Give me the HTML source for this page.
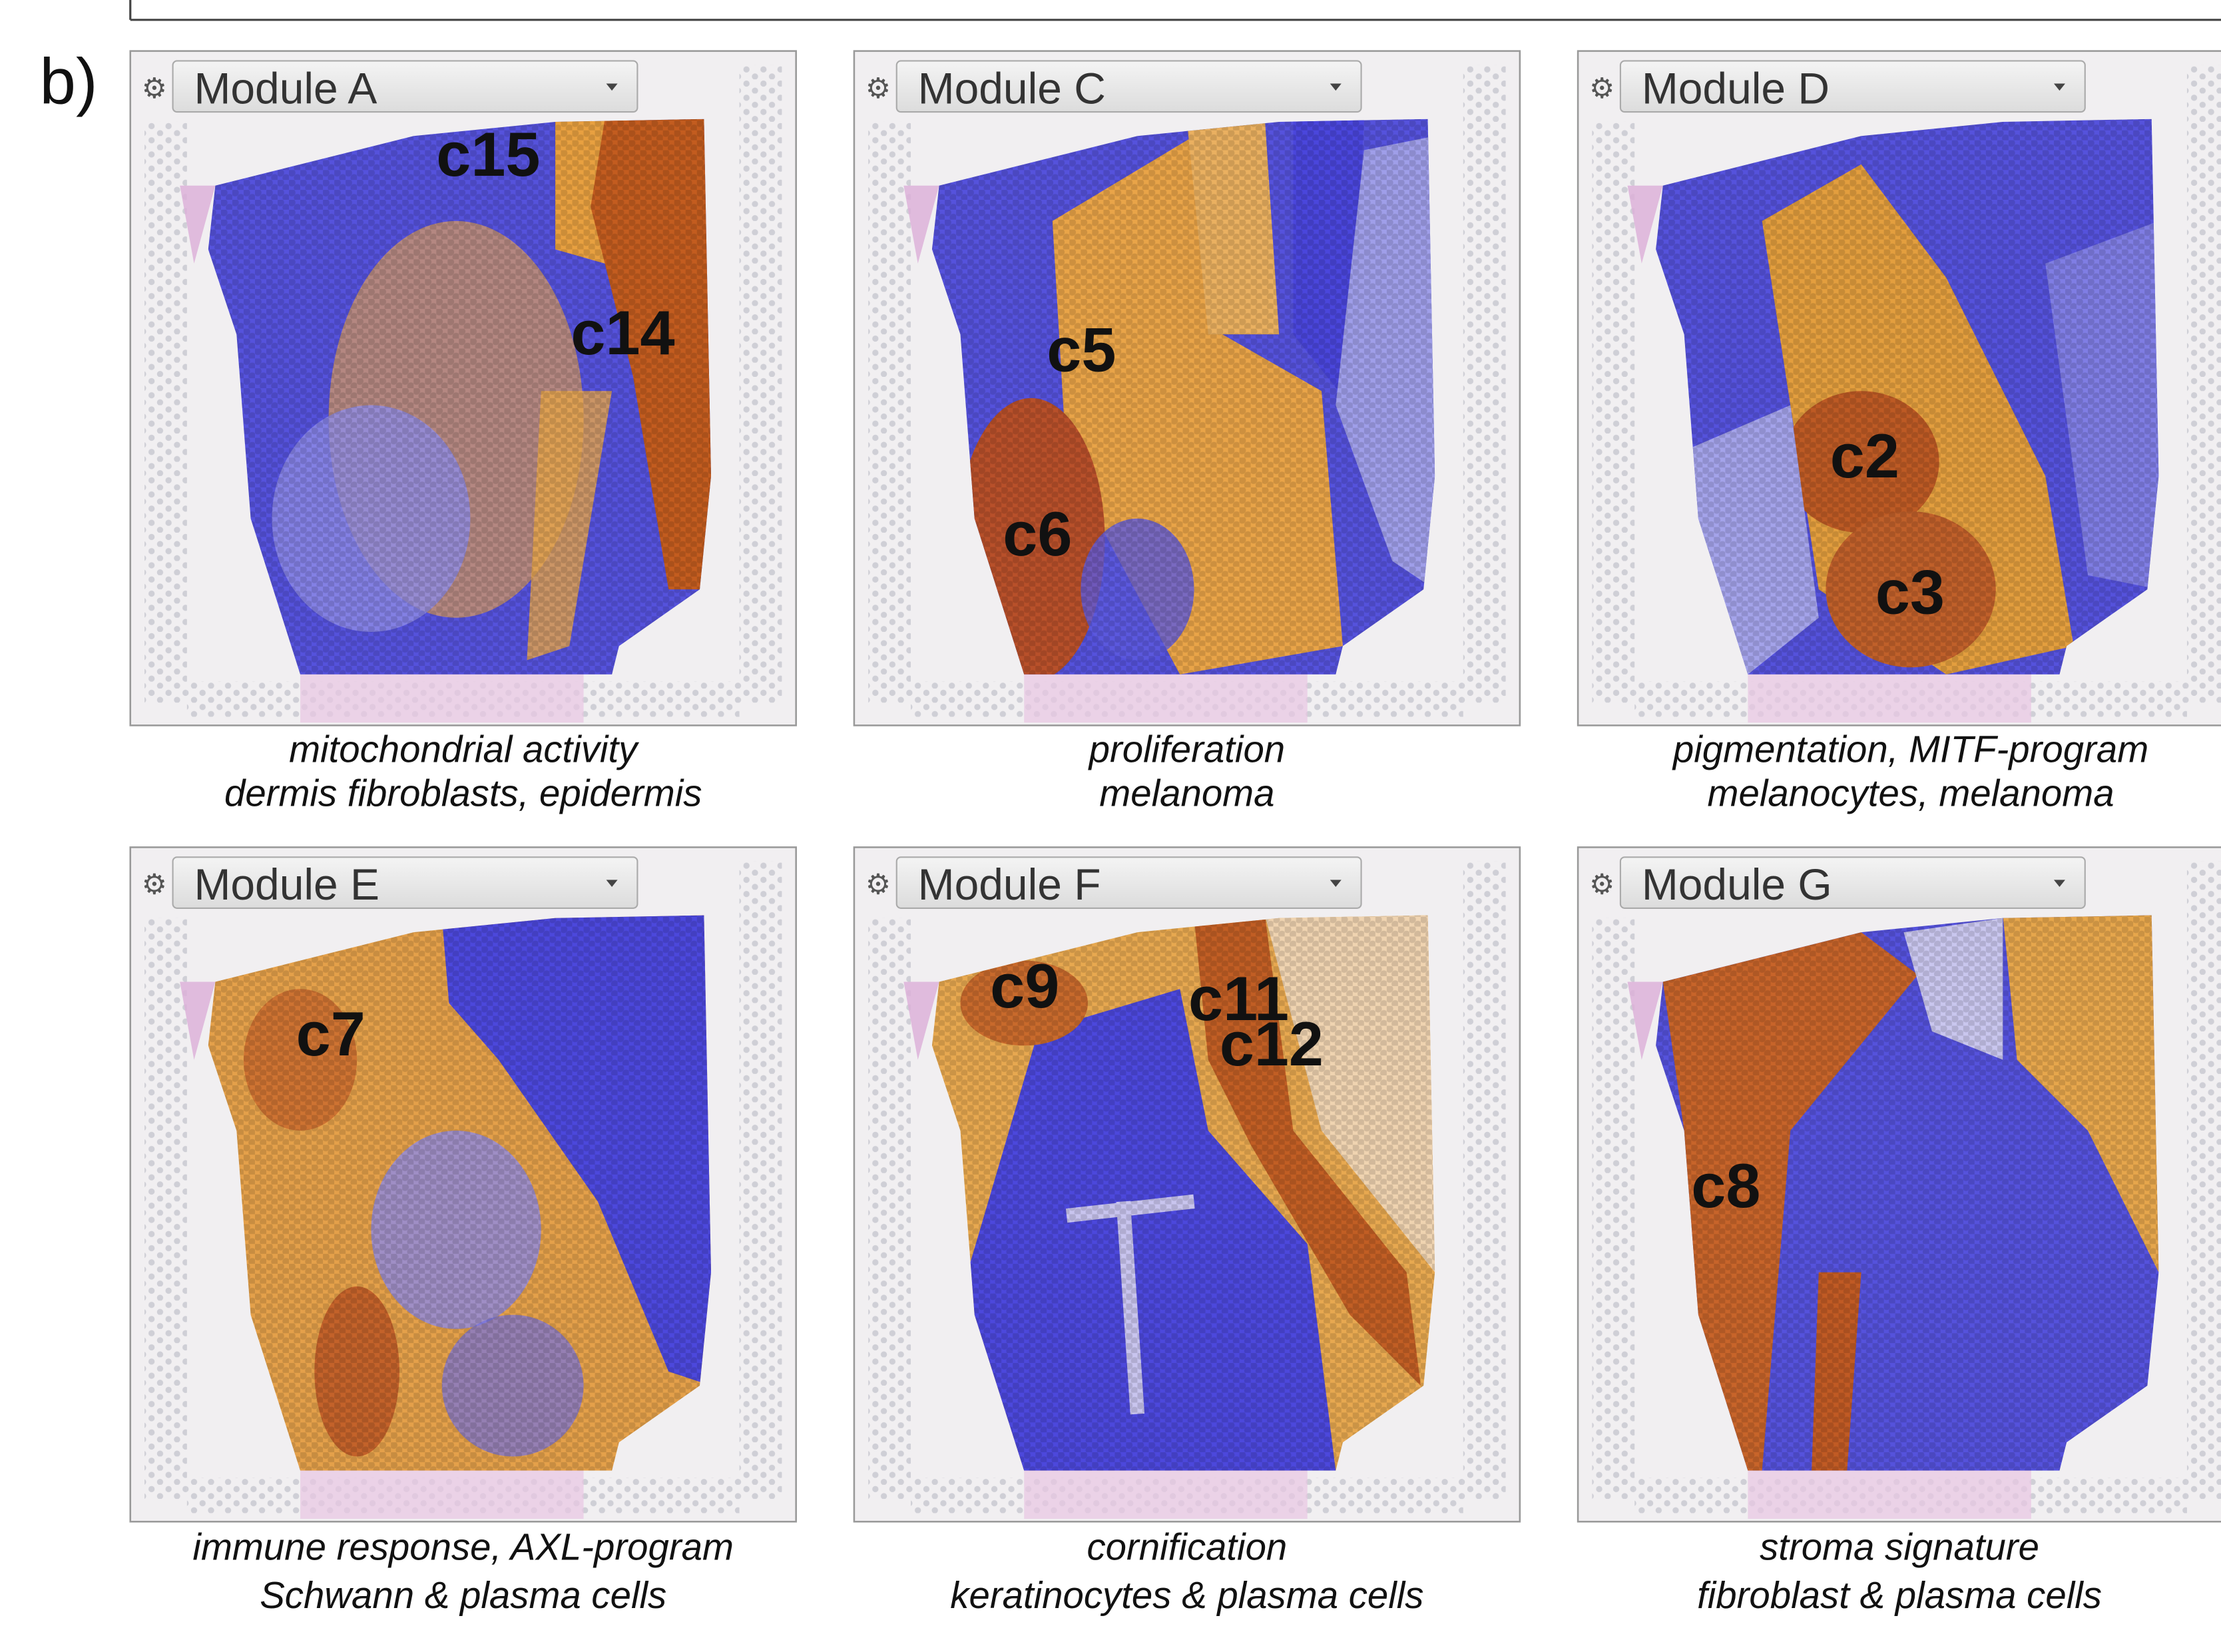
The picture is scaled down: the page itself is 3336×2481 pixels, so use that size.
<!DOCTYPE html>
<html><head><meta charset="utf-8"><style>
html,body{margin:0;padding:0;background:#fff;}
svg{display:block;}
.hd{font-family:"Liberation Sans",sans-serif;font-size:31px;fill:#333;}
.lb{font-family:"Liberation Sans",sans-serif;font-size:44px;font-weight:bold;fill:#111;}
.cap{font-family:"Liberation Sans",sans-serif;font-size:26.5px;font-style:italic;fill:#111;text-anchor:middle;}
</style></head><body>
<svg width="3336" height="2481" viewBox="0 0 1568 1166" preserveAspectRatio="none" xmlns="http://www.w3.org/2000/svg">
<defs>
<pattern id="dots" width="12" height="10" patternUnits="userSpaceOnUse">
<circle cx="3" cy="3" r="2.2" fill="#cfcfd6"/><circle cx="9" cy="8" r="2.2" fill="#cfcfd6"/></pattern>
<pattern id="hex" width="8" height="7" patternUnits="userSpaceOnUse">
<circle cx="2" cy="2" r="2.6" fill="#000" opacity="0.12"/><circle cx="6" cy="5.5" r="2.6" fill="#000" opacity="0.12"/></pattern>
<linearGradient id="hg" x1="0" y1="0" x2="0" y2="1"><stop offset="0" stop-color="#f4f4f4"/><stop offset="1" stop-color="#dcdcdc"/></linearGradient>
<clipPath id="tis"><path d="M60,95 L200,60 L300,50 L405,48 L410,300 L402,380 L345,420 L340,440 L120,440 L85,330 L75,200 L55,140 Z"/></clipPath>
<g id="frame">
<rect x="0" y="0" width="470" height="476" fill="#f1eff1" stroke="#999" stroke-width="1.2"/>
<rect x="10" y="50" width="30" height="410" fill="url(#dots)"/>
<rect x="430" y="10" width="30" height="450" fill="url(#dots)"/>
<rect x="40" y="445" width="390" height="25" fill="url(#dots)"/>
<rect x="120" y="438" width="200" height="36" fill="#e8c6e2" opacity="0.7"/>
<polygon points="35,95 60,95 45,150" fill="#dcaed8" opacity="0.8"/>
<rect x="30" y="7" width="328" height="36" rx="3" fill="url(#hg)" stroke="#aaa"/>
<text x="8" y="33" font-family="DejaVu Sans" font-size="20" fill="#555">⚙</text>
<polygon points="336,23 344,23 340,28" fill="#444"/>
</g>
</defs>

<line x1="92" y1="0" x2="92" y2="14" stroke="#444" stroke-width="1.5"/>
<line x1="92" y1="14" x2="1568" y2="14" stroke="#444" stroke-width="1.5"/>
<text x="28" y="73" font-family="Liberation Sans,sans-serif" font-size="46" fill="#111">b)</text>

<!-- A -->
<g transform="translate(92,36)">
<use href="#frame"/>
<text class="hd" x="45" y="37">Module A</text>
<g clip-path="url(#tis)">
<rect width="470" height="476" fill="#5552dc"/>
<ellipse cx="230" cy="260" rx="90" ry="140" fill="#e8a550" opacity="0.65"/>
<ellipse cx="170" cy="330" rx="70" ry="80" fill="#8f8ce6" opacity="0.8"/>
<polygon points="300,48 350,48 335,150 300,140" fill="#e8a040"/>
<polygon points="335,48 410,48 410,380 380,380 355,230 325,110" fill="#c35c1f"/>
<polygon points="290,240 340,240 310,420 280,430" fill="#e9a648" opacity="0.8"/>
<rect width="470" height="476" fill="url(#hex)"/>
</g>
<text class="lb" x="216" y="88">c15</text>
<text class="lb" x="311" y="214">c14</text>
</g>

<!-- C -->
<g transform="translate(603,36)">
<use href="#frame"/>
<text class="hd" x="45" y="37">Module C</text>
<g clip-path="url(#tis)">
<rect width="470" height="476" fill="#5552dc"/>
<polygon points="140,120 240,60 260,200 330,240 345,420 230,440 150,290" fill="#e9a448"/>
<polygon points="235,50 290,48 300,200 250,200" fill="#eab060"/>
<polygon points="310,48 360,48 350,250 310,200" fill="#4a46dc"/>
<polygon points="360,70 410,60 410,380 380,360 340,250" fill="#a7a6ea" opacity="0.9"/>
<ellipse cx="125" cy="345" rx="52" ry="100" fill="#b8502a"/>
<ellipse cx="200" cy="380" rx="40" ry="50" fill="#5d5ade" opacity="0.8"/>
<rect width="470" height="476" fill="url(#hex)"/>
</g>
<text class="lb" x="136" y="226">c5</text>
<text class="lb" x="105" y="356">c6</text>
</g>

<!-- D -->
<g transform="translate(1114,36)">
<use href="#frame"/>
<text class="hd" x="45" y="37">Module D</text>
<g clip-path="url(#tis)">
<rect width="470" height="476" fill="#5552dc"/>
<polygon points="130,120 200,80 260,160 330,300 350,420 260,440 170,380 150,250" fill="#e39e3e"/>
<ellipse cx="200" cy="290" rx="55" ry="50" fill="#bd5a24"/>
<ellipse cx="235" cy="380" rx="60" ry="55" fill="#c0602a"/>
<polygon points="80,280 150,250 170,400 120,440 85,380" fill="#a4a3ea"/>
<polygon points="330,150 410,120 410,380 360,370" fill="#8a88e6" opacity="0.8"/>
<rect width="470" height="476" fill="url(#hex)"/>
</g>
<text class="lb" x="178" y="301">c2</text>
<text class="lb" x="210" y="397">c3</text>
</g>

<!-- E -->
<g transform="translate(92,598)">
<use href="#frame"/>
<text class="hd" x="45" y="37">Module E</text>
<g clip-path="url(#tis)">
<rect width="470" height="476" fill="#e4a04a"/>
<polygon points="220,50 410,48 410,380 380,370 330,250 260,150 225,110" fill="#4c48dc"/>
<ellipse cx="230" cy="270" rx="60" ry="70" fill="#8d8ae4" opacity="0.8"/>
<ellipse cx="160" cy="370" rx="30" ry="60" fill="#c3622a"/>
<ellipse cx="120" cy="150" rx="40" ry="50" fill="#c8682c" opacity="0.8"/>
<ellipse cx="270" cy="380" rx="50" ry="50" fill="#7471e0" opacity="0.7"/>
<rect width="470" height="476" fill="url(#hex)"/>
</g>
<text class="lb" x="117" y="147">c7</text>
</g>

<!-- F -->
<g transform="translate(603,598)">
<use href="#frame"/>
<text class="hd" x="45" y="37">Module F</text>
<g clip-path="url(#tis)">
<rect width="470" height="476" fill="#e7a850"/>
<polygon points="130,130 230,100 250,200 320,280 340,440 90,440 80,300" fill="#4c48dc"/>
<polygon points="240,50 290,48 310,200 390,300 400,380 350,330 280,210 250,150" fill="#c15e24"/>
<polygon points="290,48 410,48 410,300 330,200" fill="#efd3b0"/>
<ellipse cx="120" cy="110" rx="45" ry="30" fill="#c86a2c"/>
<path d="M150,260 L240,250 M190,250 L200,400" stroke="#c8c4ee" stroke-width="10" fill="none"/>
<rect width="470" height="476" fill="url(#hex)"/>
</g>
<text class="lb" x="96" y="113">c9</text>
<text class="lb" x="236" y="122">c11</text>
<text class="lb" x="258" y="154">c12</text>
</g>

<!-- G -->
<g transform="translate(1114,598)">
<use href="#frame"/>
<text class="hd" x="45" y="37">Module G</text>
<g clip-path="url(#tis)">
<rect width="470" height="476" fill="#5552dc"/>
<polygon points="60,95 200,60 240,90 150,200 130,440 90,440 75,200" fill="#c7642a"/>
<polygon points="300,48 410,48 410,300 360,200 310,150" fill="#e6a64c"/>
<polygon points="230,60 300,50 300,150 250,130" fill="#c9c6ee"/>
<polygon points="170,300 200,300 190,440 165,440" fill="#c05a24"/>
<rect width="470" height="476" fill="url(#hex)"/>
</g>
<text class="lb" x="80" y="254">c8</text>
</g>

<text class="cap" x="327" y="538">mitochondrial activity</text>
<text class="cap" x="327" y="569">dermis fibroblasts, epidermis</text>
<text class="cap" x="838" y="538">proliferation</text>
<text class="cap" x="838" y="569">melanoma</text>
<text class="cap" x="1349" y="538">pigmentation, MITF-program</text>
<text class="cap" x="1349" y="569">melanocytes, melanoma</text>
<text class="cap" x="327" y="1101">immune response, AXL-program</text>
<text class="cap" x="327" y="1135">Schwann &amp; plasma cells</text>
<text class="cap" x="838" y="1101">cornification</text>
<text class="cap" x="838" y="1135">keratinocytes &amp; plasma cells</text>
<text class="cap" x="1341" y="1101">stroma signature</text>
<text class="cap" x="1341" y="1135">fibroblast &amp; plasma cells</text>
</svg>
</body></html>
